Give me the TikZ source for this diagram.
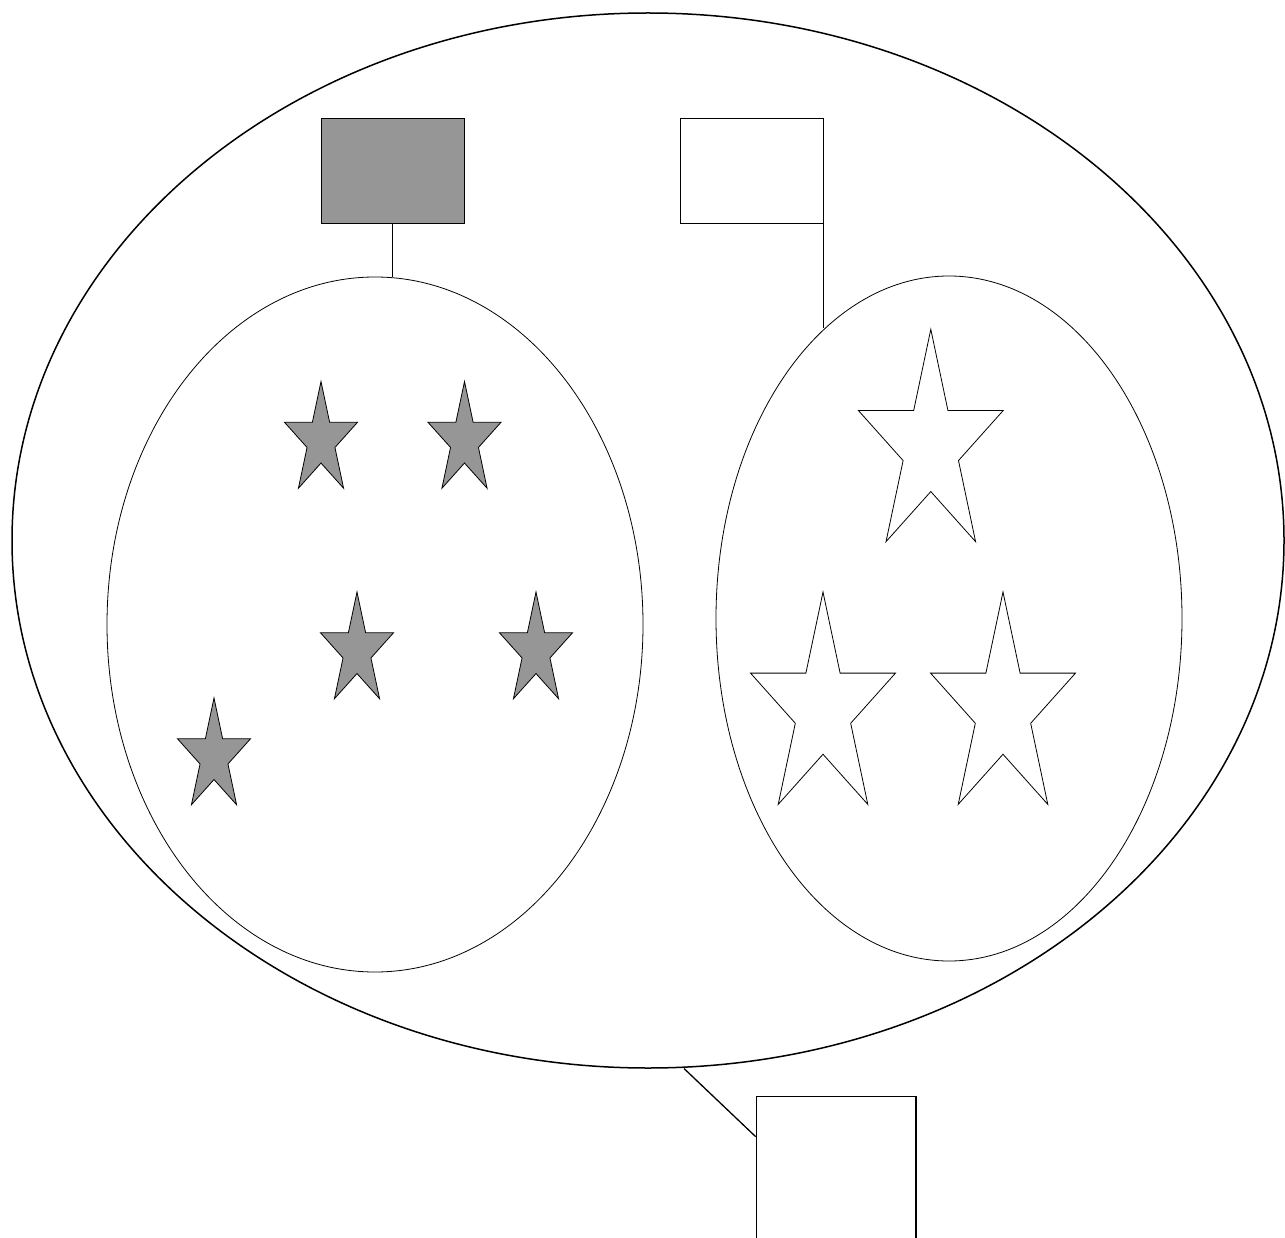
\documentclass[tikz,border=0pt]{standalone}
\usetikzlibrary{shapes.geometric,calc}
\definecolor{stargray}{HTML}{969696}
\tikzset{
  bigell/.style={draw=black,line width=1.5pt,ellipse,inner sep=0pt},
  subell/.style={draw=black,line width=0.8pt,ellipse,inner sep=0pt},
  boxnode/.style={draw=black,line width=1pt,rectangle,inner sep=0pt},
  conn/.style={draw=black,line width=1pt},
  graystar/.style={draw=black,line width=0.8pt,fill=stargray},
  whitestar/.style={draw=black,line width=0.8pt,fill=white},
}
\newcommand\mystar[4]{%
  \draw[#4,shift={(#1)},xscale=#2,yscale=#3]
    (-90:1) -- (-54:0.382) -- (-18:1) -- (18:0.382) -- (54:1) -- (90:0.382)
    -- (126:1) -- (162:0.382) -- (198:1) -- (234:0.382) -- cycle;}
\begin{document}
\begin{tikzpicture}[x=1pt,y=-1pt]
\useasboundingbox (0,0) rectangle (1285,1238);
\fill[white] (0,0) rectangle (1285,1238);
\clip (0,0) rectangle (1285,1238);
% outer ellipse
\node[bigell,minimum width=1272pt,minimum height=1055pt] (big) at (648,540.5) {};
% inner ellipses
\node[subell,minimum width=536pt,minimum height=695pt] (lell) at (375,624.5) {};
\node[subell,minimum width=466pt,minimum height=685pt] (rell) at (949,618.5) {};
% top boxes
\node[boxnode,fill=stargray,minimum width=143pt,minimum height=105pt] (grect) at (392.5,171.5) {};
\node[boxnode,fill=white,minimum width=143pt,minimum height=105pt] (wrect) at (751.5,171.5) {};
% bottom box
\node[boxnode,line width=1.5pt,fill=white,minimum width=159.5pt,minimum height=200pt,anchor=north west] (brect) at (755.7,1095.7) {};
% connectors
\draw[conn] (grect.south) -- (grect.south |- lell.north);
\draw[conn] (wrect.south east) -- (wrect.south east |- rell.113.6);
\coordinate (bstart) at (684,1068.5);
\coordinate (bjoin) at ($(brect.north west)+(0,41)$);
\draw[conn,line width=1.3pt] (bstart) -- (bjoin);
% gray stars
\mystar{321,440.5}{38.4}{59}{graystar}
\mystar{464.5,440.5}{38.4}{59}{graystar}
\mystar{357,651}{38.4}{59}{graystar}
\mystar{536,651}{38.4}{59}{graystar}
\mystar{214,757}{38.4}{59}{graystar}
% white stars
\mystar{930.8,446.7}{76.2}{117.4}{whitestar}
\mystar{823,709.4}{76.2}{117.4}{whitestar}
\mystar{1003,709.4}{76.2}{117.4}{whitestar}
\end{tikzpicture}
\end{document}
